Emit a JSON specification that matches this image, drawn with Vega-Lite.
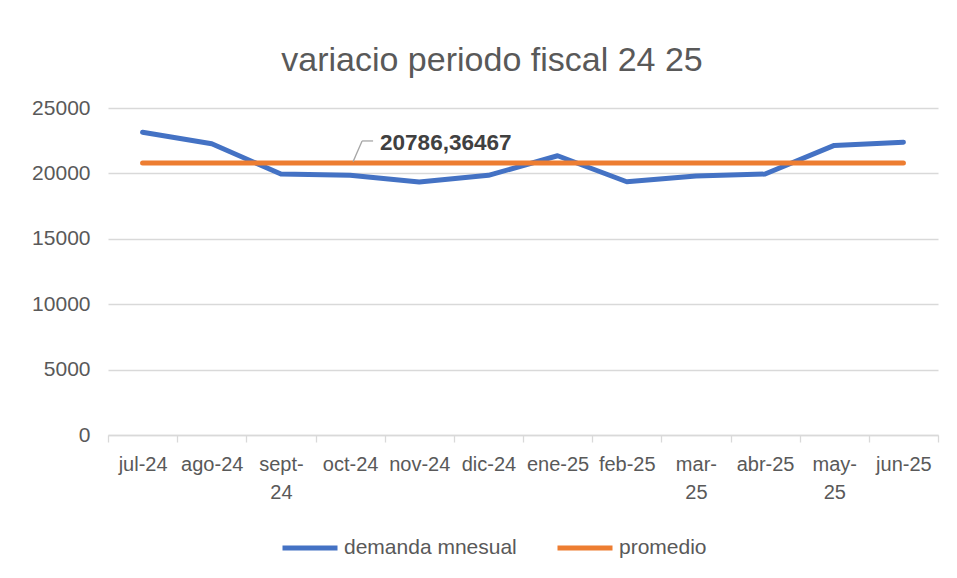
{
  "$schema": "https://vega.github.io/schema/vega-lite/v6.json",
  "width": 830,
  "height": 327,
  "autosize": {"type": "none"},
  "padding": {"left": 108, "top": 108, "right": 19, "bottom": 143},
  "background": "white",
  "title": {
    "text": "variacio periodo fiscal 24 25",
    "font": "Liberation Sans",
    "fontSize": 34,
    "fontWeight": "normal",
    "color": "#595959",
    "anchor": "middle",
    "frame": "group",
    "dx": -31,
    "offset": -8,
    "baseline": "alphabetic"
  },
  "datasets": {
    "series": [
      {"mes": "jul-24", "serie": "demanda mnesual", "valor": 23150},
      {"mes": "ago-24", "serie": "demanda mnesual", "valor": 22270},
      {"mes": "sept-24", "serie": "demanda mnesual", "valor": 19950},
      {"mes": "oct-24", "serie": "demanda mnesual", "valor": 19850},
      {"mes": "nov-24", "serie": "demanda mnesual", "valor": 19340},
      {"mes": "dic-24", "serie": "demanda mnesual", "valor": 19850},
      {"mes": "ene-25", "serie": "demanda mnesual", "valor": 21350},
      {"mes": "feb-25", "serie": "demanda mnesual", "valor": 19360},
      {"mes": "mar-25", "serie": "demanda mnesual", "valor": 19800},
      {"mes": "abr-25", "serie": "demanda mnesual", "valor": 19950},
      {"mes": "may-25", "serie": "demanda mnesual", "valor": 22140},
      {"mes": "jun-25", "serie": "demanda mnesual", "valor": 22390},
      {"mes": "jul-24", "serie": "promedio", "valor": 20786.36467},
      {"mes": "ago-24", "serie": "promedio", "valor": 20786.36467},
      {"mes": "sept-24", "serie": "promedio", "valor": 20786.36467},
      {"mes": "oct-24", "serie": "promedio", "valor": 20786.36467},
      {"mes": "nov-24", "serie": "promedio", "valor": 20786.36467},
      {"mes": "dic-24", "serie": "promedio", "valor": 20786.36467},
      {"mes": "ene-25", "serie": "promedio", "valor": 20786.36467},
      {"mes": "feb-25", "serie": "promedio", "valor": 20786.36467},
      {"mes": "mar-25", "serie": "promedio", "valor": 20786.36467},
      {"mes": "abr-25", "serie": "promedio", "valor": 20786.36467},
      {"mes": "may-25", "serie": "promedio", "valor": 20786.36467},
      {"mes": "jun-25", "serie": "promedio", "valor": 20786.36467}
    ],
    "annotation": [
      {"mes": "oct-24", "y0": 20900, "y1": 22480, "ty": 22330, "label": "20786,36467"}
    ]
  },
  "layer": [
    {
      "data": {"name": "series"},
      "mark": {"type": "line", "strokeWidth": 5, "strokeCap": "round", "strokeJoin": "round"},
      "encoding": {
        "x": {
          "field": "mes", "type": "ordinal", "bandPosition": 0.5,
          "scale": {"type": "band", "paddingInner": 0, "paddingOuter": 0,
            "domain": ["jul-24","ago-24","sept-24","oct-24","nov-24","dic-24","ene-25","feb-25","mar-25","abr-25","may-25","jun-25"]},
          "axis": {
            "title": null, "labelAngle": 0, "grid": false,
            "domainColor": "#d9d9d9", "domainWidth": 1.3,
            "tickColor": "#d9d9d9", "tickWidth": 1.3, "tickSize": 7, "tickBand": "extent",
            "labelPadding": 12, "labelFontSize": 20, "labelLineHeight": 28,
            "labelOverlap": false, "labelBound": false, "labelBaseline": "top",
            "labelExpr": "indexof(['sept-24','mar-25','may-25'], datum.label) >= 0 ? [slice(datum.label, 0, indexof(datum.label, '-') + 1), slice(datum.label, indexof(datum.label, '-') + 1)] : datum.label"
          }
        },
        "y": {
          "field": "valor", "type": "quantitative",
          "scale": {"domain": [0, 25000], "nice": false},
          "axis": {
            "title": null, "values": [0, 5000, 10000, 15000, 20000, 25000], "format": "d",
            "domain": false, "ticks": false, "grid": true,
            "gridColor": "#d9d9d9", "gridWidth": 1.3,
            "labelPadding": 18, "labelFontSize": 21
          }
        },
        "color": {
          "field": "serie", "type": "nominal",
          "scale": {"domain": ["demanda mnesual", "promedio"], "range": ["#4472c4", "#ed7d31"]},
          "legend": {
            "title": null, "orient": "none", "direction": "horizontal",
            "legendX": 172, "legendY": 410,
            "symbolType": "stroke", "symbolSize": 3025, "symbolStrokeWidth": 5,
            "labelFontSize": 21, "labelColor": "#595959", "labelOffset": 4, "labelLimit": 400,
            "columnPadding": 30
          }
        }
      }
    },
    {
      "data": {"name": "annotation"},
      "mark": {"type": "rule", "color": "#a6a6a6", "strokeWidth": 1.3, "xOffset": 3, "x2Offset": 12},
      "encoding": {
        "x": {"field": "mes", "type": "ordinal", "bandPosition": 0.5},
        "x2": {"field": "mes", "bandPosition": 0.5},
        "y": {"field": "y0", "type": "quantitative"},
        "y2": {"field": "y1"}
      }
    },
    {
      "data": {"name": "annotation"},
      "mark": {"type": "rule", "color": "#a6a6a6", "strokeWidth": 1.3, "xOffset": 12, "x2Offset": 23},
      "encoding": {
        "x": {"field": "mes", "type": "ordinal", "bandPosition": 0.5},
        "x2": {"field": "mes", "bandPosition": 0.5},
        "y": {"field": "y1", "type": "quantitative"}
      }
    },
    {
      "data": {"name": "annotation"},
      "mark": {"type": "text", "align": "left", "baseline": "middle", "dx": 30, "font": "Liberation Sans", "fontSize": 22.5, "fontWeight": "bold", "color": "#404040"},
      "encoding": {
        "x": {"field": "mes", "type": "ordinal", "bandPosition": 0.5},
        "y": {"field": "ty", "type": "quantitative"},
        "text": {"field": "label"}
      }
    }
  ],
  "config": {
    "font": "Liberation Sans",
    "view": {"stroke": null},
    "axis": {"labelFont": "Liberation Sans", "labelColor": "#595959"},
    "legend": {"labelFont": "Liberation Sans"}
  }
}
